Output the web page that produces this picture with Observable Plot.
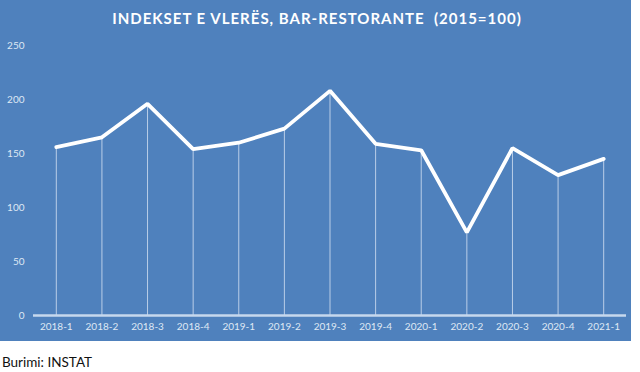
<!DOCTYPE html>
<html>
<head>
<meta charset="utf-8">
<script src="https://cdn.jsdelivr.net/npm/d3@7"></script>
<script src="https://cdn.jsdelivr.net/npm/@observablehq/plot@0.6"></script>
<style>
  body { margin: 0; background: #fff; }
  #wrap { position: relative; width: 631px; height: 341px; background: #4f81bd; }
  #title { position: absolute; left: 0; top: 9px; width: 634px; text-align: center; color: #fff;
    font: bold 15px Lato, "Open Sans", sans-serif; letter-spacing: 1px; }
  #caption { font: 13.5px Lato, "Open Sans", sans-serif; color: #111; margin: 13px 0 0 2px; }
  svg { display: block; }
</style>
</head>
<body>
<div id="wrap"><div id="title">INDEKSET E VLERËS, BAR-RESTORANTE&nbsp; (2015=100)</div></div>
<div id="caption">Burimi: INSTAT</div>
<script>
const periods = ["2018-1","2018-2","2018-3","2018-4","2019-1","2019-2","2019-3","2019-4","2020-1","2020-2","2020-3","2020-4","2021-1"];
const values = [156, 165, 196, 154, 160, 173, 208, 159, 153, 77, 155, 130, 145];
const yTicks = [0, 50, 100, 150, 200, 250];

const data = periods.map((p, i) => ({period: p, value: values[i]}));

const chart = Plot.plot({
  width: 631,
  height: 341,
  marginLeft: 33,
  marginRight: 5,
  marginTop: 45,
  marginBottom: 26,
  style: {background: "transparent", fontFamily: "Lato, 'Open Sans', sans-serif"},
  x: {type: "point", domain: periods, padding: 0.5, round: false},
  y: {domain: [0, 250]},
  marks: [
    Plot.axisY({ticks: yTicks, tickSize: 0, tickPadding: 9, fontSize: 10, fill: "#dfe8f4", label: null}),
    Plot.axisX({tickSize: 0, tickPadding: 7, fontSize: 10, fill: "#dfe8f4", label: null, style: {letterSpacing: "1.2px"}}),
    Plot.ruleX(data, {x: "period", y1: 0, y2: "value", stroke: "#d4e1f2", strokeWidth: 1, strokeOpacity: 0.8}),
    Plot.ruleY([0], {stroke: "#c6d8ee", strokeWidth: 2.5}),
    Plot.line(data, {x: "period", y: "value", stroke: "#ffffff", strokeWidth: 3.8, strokeLinejoin: "miter"})
  ]
});
document.getElementById("wrap").appendChild(chart);
</script>
</body>
</html>
